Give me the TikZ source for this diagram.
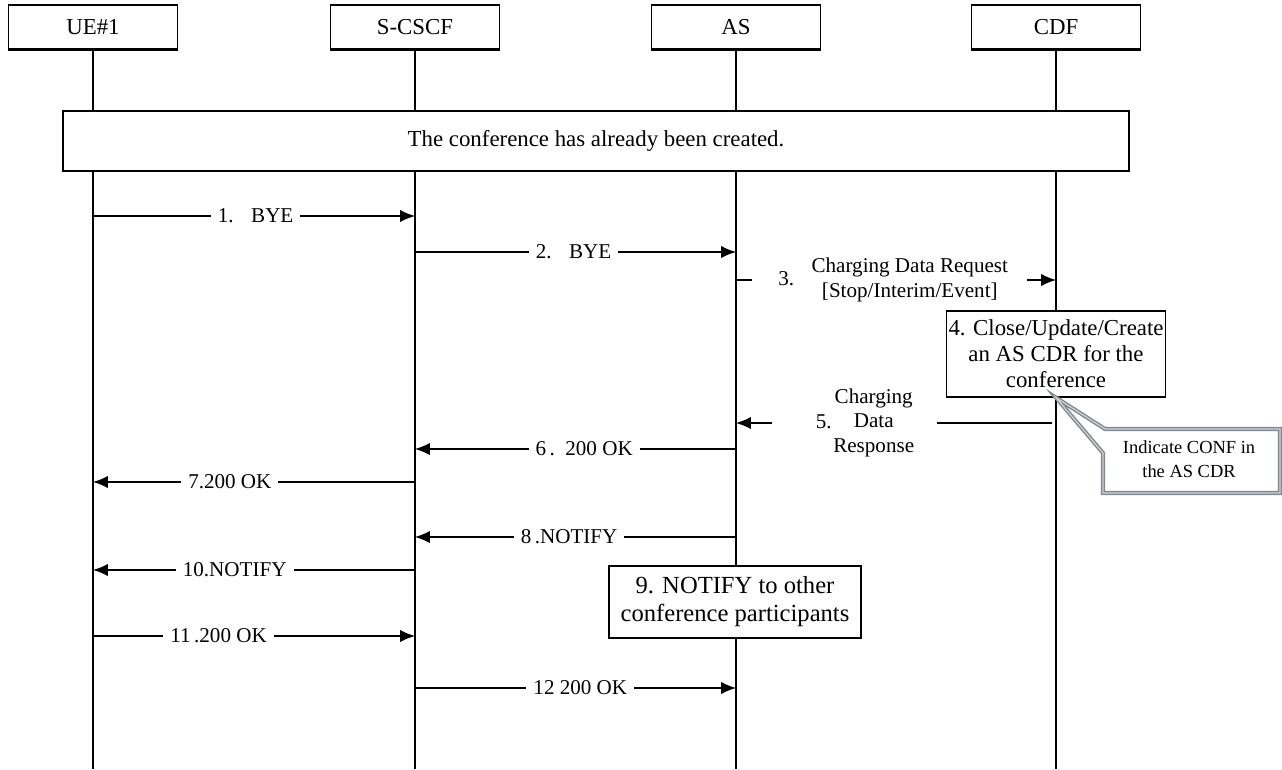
\documentclass[tikz,border=0pt]{standalone}
\usepackage{fontspec}
\setmainfont{Liberation Serif}
\usetikzlibrary{arrows.meta}

\definecolor{notegray}{RGB}{128,136,144}
\definecolor{notelight}{RGB}{205,210,214}

\tikzset{
  actor/.style={draw, fill=white, line width=0.7pt, minimum width=3.38cm, minimum height=0.88cm, font=\fontsize{13}{15}\selectfont},
  lifeline/.style={line width=0.7pt},
  msg/.style={line width=0.7pt, -{Latex[length=8.5pt,width=7pt]}},
  lbl/.style={fill=white, inner xsep=4pt, inner ysep=1pt, font=\fontsize{12}{14}\selectfont},
  actbox/.style={draw, fill=white, line width=0.7pt, align=center, font=\fontsize{13}{14.7}\selectfont},
  callout/.style={draw=notegray, double=notelight, double distance=0.7pt, line width=0.8pt, fill=white, line join=miter},
}

\begin{document}
\begin{tikzpicture}[x=0.02cm,y=-0.02cm]
	\useasboundingbox (0,0) rectangle (1282,769);
	
	%heads and lifelines
	\node[actor] (ue) at (93,27) {UE\#1};
	\node[actor] (scscf) at (415,27) {S-CSCF};
	\node[actor] (as) at (736,27) {AS};
	\node[actor] (cdf) at (1056,27) {CDF};
	\foreach \n in {ue,scscf,as,cdf}{
		\coordinate (\n end) at (\n |- 0,769);
		\draw[lifeline] (\n) -- (\n end);
		\draw[line width=1.3pt] (\n.south west) -- (\n.south east);
	}
	
	\node[actbox, minimum width=21.32cm, minimum height=1.2cm] (conf) at (596,141) {The conference has already been created.};
	
	%messages
	\draw[msg] (ue |- 0,216) -- node[lbl,pos=0.505]{1.\hspace{10pt}BYE} (scscf |- 0,216);
	\draw[msg] (scscf |- 0,252) -- node[lbl,pos=0.494]{2.\hspace{10pt}BYE} (as |- 0,252);
	\draw[msg] (as |- 0,280) -- node[lbl,pos=0.48,inner xsep=11pt]{\hspace{4pt}3.\hspace{10pt}\begin{tabular}{@{}c@{}}Charging Data Request\\{}[Stop/Interim/Event]\end{tabular}} (cdf |- 0,280);
	
	\node[actbox, inner xsep=1pt, minimum width=4.22cm, minimum height=1.72cm] (cdr) at (1056,354) {4. Close/Update/Create\\an AS CDR for the\\conference};
	
	\draw[msg, shorten <=2.5pt] (cdf |- 0,423) -- node[lbl,pos=0.63,inner xsep=13pt]{\hspace{12pt}5.\hspace{1pt}\begin{tabular}{@{}c@{}}Charging\\Data\\Response\end{tabular}} (as |- 0,423);
	
	%note on the CDR
	\draw[callout] (cdr.south) -- (1105,429) -- (1280,429) -- (1280,493) -- (1103,493) -- (1103,453) -- cycle;
	\node[align=center, font=\fontsize{10.5}{13.6}\selectfont] (ind) at (1189,459) {Indicate CONF in\\the AS CDR};
	
	\draw[msg] (as |- 0,449) -- node[lbl,pos=0.473]{6\,.\hspace{6pt}200 OK} (scscf |- 0,449);
	\draw[msg] (scscf |- 0,482) -- node[lbl,pos=0.575]{7.200 OK} (ue |- 0,482);
	\draw[msg] (as |- 0,537) -- node[lbl,pos=0.52]{8\,.NOTIFY} (scscf |- 0,537);
	
	\node[actbox, minimum width=5.04cm, minimum height=1.44cm, font=\fontsize{14}{16}\selectfont] (notify) at (735,602) {9. NOTIFY to other\\conference participants};
	
	\draw[msg] (scscf |- 0,570) -- node[lbl,pos=0.56]{10.NOTIFY} (ue |- 0,570);
	\draw[msg] (ue |- 0,636) -- node[lbl,pos=0.39]{11\,.200 OK} (scscf |- 0,636);
	\draw[msg] (scscf |- 0,688) -- node[lbl,pos=0.515]{12 200 OK} (as |- 0,688);
\end{tikzpicture}
\end{document}
